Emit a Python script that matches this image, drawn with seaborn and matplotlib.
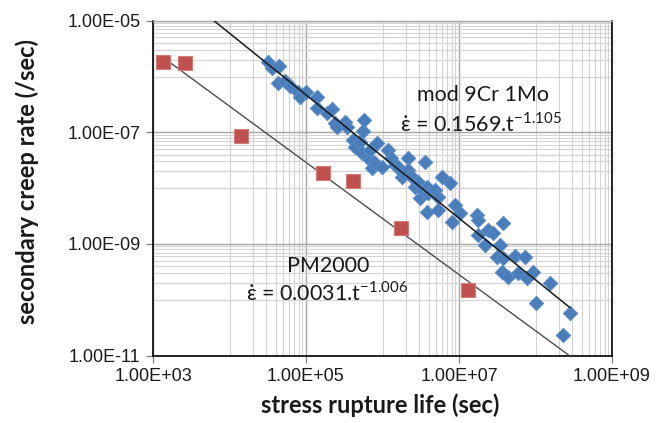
import matplotlib
matplotlib.use("Agg")
import matplotlib.pyplot as plt
import seaborn as sns
from matplotlib.ticker import FixedLocator, FuncFormatter, NullFormatter

# ---- data ----
pm_life = [1.36e3, 2.62e3, 1.41e4, 1.65e5, 4.11e5, 1.77e6, 1.30e7]
pm_rate = [1.82e-6, 1.75e-6, 8.7e-8, 1.84e-8, 1.36e-8, 1.89e-9, 1.52e-10]

mod_life = [3.2e4, 3.6e4, 4.4e4, 4.3e4, 5.3e4, 6.2e4, 7.9e4, 8.4e4, 1.0e5, 1.39e5,
            1.39e5, 1.88e5, 2.19e5, 2.39e5, 2.54e5, 3.24e5, 3.44e5, 4.1e5, 4.4e5, 5.1e5,
            5.4e5, 5.6e5, 5.7e5, 6.5e5, 6.9e5, 6.9e5, 7.3e5, 8.0e5, 8.5e5, 9.8e5,
            1.18e6, 1.29e6, 1.46e6, 1.6e6, 1.8e6, 1.85e6, 2.15e6, 2.15e6, 2.36e6, 2.66e6,
            2.91e6, 3.09e6, 3.38e6, 3.6e6, 3.8e6, 3.8e6, 3.9e6, 4.85e6, 5.3e6, 5.3e6,
            6.0e6, 7.6e6, 8.1e6, 8.9e6, 1.03e7, 1.72e7, 1.77e7, 1.77e7, 2.19e7, 2.39e7,
            2.78e7, 3.14e7, 3.44e7, 3.65e7, 3.76e7, 3.76e7, 4.4e7, 5.4e7, 5.9e7, 7.3e7,
            7.7e7, 9.3e7, 1.02e8, 1.55e8, 2.29e8, 2.82e8]
mod_rate = [1.82e-6, 1.42e-6, 1.54e-6, 7.7e-7, 8.3e-7, 6.8e-7, 5.3e-7, 4.3e-7, 5.3e-7, 4.3e-7,
            2.7e-7, 2.2e-7, 2.6e-7, 1.47e-7, 1.24e-7, 1.53e-7, 1.24e-7, 7.3e-8, 5.5e-8, 6.7e-8,
            4.3e-8, 1.05e-7, 1.66e-7, 3.6e-8, 3.2e-8, 4.8e-8, 2.3e-8, 2.8e-8, 6.4e-8, 2.4e-8,
            4.8e-8, 3.5e-8, 2.6e-8, 2.4e-8, 1.58e-8, 1.87e-8, 3.5e-8, 2.1e-8, 1.65e-8, 1.05e-8,
            1.29e-8, 6.7e-9, 9.2e-9, 2.9e-8, 1.05e-8, 3.7e-9, 8.2e-9, 9.2e-9, 6.9e-9, 4.1e-9,
            1.58e-8, 1.23e-8, 2.5e-9, 5.0e-9, 3.6e-9, 3.3e-9, 2.7e-9, 1.44e-9, 9.5e-10, 1.77e-9,
            1.57e-9, 5.8e-10, 9.5e-10, 3.1e-10, 2.4e-9, 5.6e-10, 2.6e-10, 6.1e-10, 3.0e-10, 5.8e-10,
            2.4e-10, 3.1e-10, 8.7e-11, 2.0e-10, 2.3e-11, 5.8e-11]

# power-law trend lines as printed on the chart: rate = a * t^b
mod_fit_a, mod_fit_b = 0.1569, -1.105
pm_fit_a, pm_fit_b = 0.0031, -1.006
mod_fit_life = [6.0e3, 2.82e8]
pm_fit_life = [1.36e3, 2.82e8]

x_ticks = [1e3, 1e5, 1e7, 1e9]
y_ticks = [1e-11, 1e-9, 1e-7, 1e-5]

# ---- style ----
sns.set_theme(style="white")
plt.rcParams['font.family'] = ['Liberation Sans', 'DejaVu Sans']
plt.rcParams['mathtext.fontset'] = 'dejavusans'

fig = plt.figure(figsize=(6.72, 4.23), dpi=100)
W, H = 672, 423
L, R, T, B = 153, 612, 20.7, 355.5
ax = fig.add_axes([L / W, 1 - B / H, (R - L) / W, (B - T) / H])

ax.set_xscale('log')
ax.set_yscale('log')

# trend lines
mod_fit_rate = [mod_fit_a * t ** mod_fit_b for t in mod_fit_life]
pm_fit_rate = [pm_fit_a * t ** pm_fit_b for t in pm_fit_life]
sns.lineplot(x=mod_fit_life, y=mod_fit_rate, color='#1a1a1a', lw=1.1, ax=ax, zorder=4)
sns.lineplot(x=pm_fit_life, y=pm_fit_rate, color='#4d4d4d', lw=1.0, ax=ax, zorder=4)

# points
sns.scatterplot(x=mod_life, y=mod_rate, marker='D', s=55, color='#4a7ebb',
                edgecolor='#5b8cc6', linewidth=0.6, ax=ax, zorder=3)
sns.scatterplot(x=pm_life, y=pm_rate, marker='s', s=105, color='#c0504d',
                edgecolor='#d47c7a', linewidth=0.8, ax=ax, zorder=5)

ax.set_xlim(1e3, 1e9)
ax.set_ylim(1e-11, 1e-5)

minor_x = [k * 10.0 ** m for m in (4, 6, 8) for k in range(1, 10)]
minor_y = [k * 10.0 ** m for m in (-10, -8, -6) for k in range(1, 10)]
ax.xaxis.set_major_locator(FixedLocator(x_ticks))
ax.yaxis.set_major_locator(FixedLocator(y_ticks))
ax.xaxis.set_minor_locator(FixedLocator(minor_x))
ax.yaxis.set_minor_locator(FixedLocator(minor_y))
fmt = FuncFormatter(lambda v, p: f"{v:.2E}")
ax.xaxis.set_major_formatter(fmt)
ax.yaxis.set_major_formatter(fmt)
ax.xaxis.set_minor_formatter(NullFormatter())
ax.yaxis.set_minor_formatter(NullFormatter())

ax.set_axisbelow(True)
ax.grid(which='minor', color='#d3d3d3', lw=0.8)
ax.grid(which='major', color='#a8a8a8', lw=1.0)

ax.tick_params(which='major', direction='out', length=5, width=0.9, color='#808080',
               labelsize=13, labelcolor='#1a1a1a', pad=4)
ax.tick_params(which='minor', length=0)
ax.tick_params(axis='x', bottom=True, top=False)
ax.tick_params(axis='y', left=True, right=False)

for side in ('left', 'bottom', 'right'):
    ax.spines[side].set_color('#000000')
    ax.spines[side].set_linewidth(1.2)
ax.spines['top'].set_color('#a8a8a8')
ax.spines['top'].set_linewidth(1.0)

ax.set_xlabel('')
ax.set_ylabel('')

# axis titles
fig.text(27 / W, 1 - 181 / H, 'secondary creep rate (/sec)', rotation=90,
         ha='center', va='center', fontsize=17, fontweight='bold',
         family=['Lato', 'DejaVu Sans'], color='#1a1a1a')
fig.text(380 / W, 1 - 405 / H, 'stress rupture life (sec)',
         ha='center', va='center', fontsize=17, fontweight='bold',
         family=['Lato', 'DejaVu Sans'], color='#1a1a1a')

# annotations
txt_kw = dict(transform=ax.transAxes, ha='center', va='center', fontsize=15.5,
              family=['Lato', 'DejaVu Sans'], color='#1a1a1a')
ax.text(0.719, 0.778, 'mod 9Cr 1Mo', **txt_kw)
ax.text(0.715, 0.694, '\u03b5\u0307 = 0.1569.t$^{\\mathregular{-1.105}}$', **txt_kw)
ax.text(0.381, 0.267, 'PM2000', **txt_kw)
ax.text(0.379, 0.187, '\u03b5\u0307 = 0.0031.t$^{\\mathregular{-1.006}}$', **txt_kw)

fig.savefig('out.png', dpi=100)
